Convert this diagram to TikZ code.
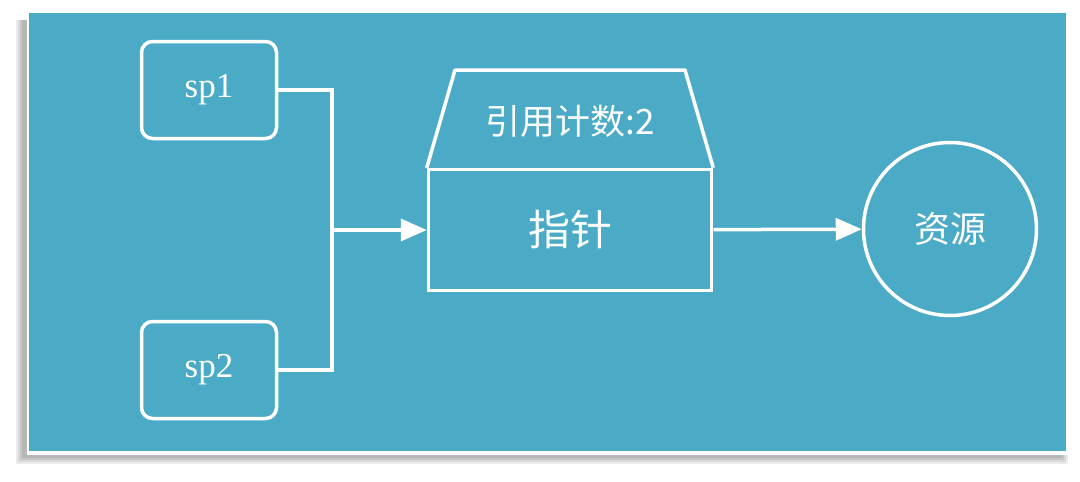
\documentclass[tikz,border=0pt]{standalone}
\usepackage{fontspec}
\setmainfont{Liberation Serif}
\newfontfamily\cjk{Noto Sans CJK SC}
\usetikzlibrary{arrows.meta}
\definecolor{panelblue}{HTML}{4BABC6}
\tikzset{
  spbox/.style={draw, rounded corners=11pt, minimum width=135pt, minimum height=97pt, font=\fontsize{35}{40}\selectfont},
  ptrbox/.style={draw, minimum width=283pt, minimum height=121pt, font=\cjk\fontsize{42}{46}\selectfont},
}
\begin{document}
\begin{tikzpicture}[x=1pt, y=-1pt, line width=3.5pt, white, >={Triangle[length=26pt, width=22pt]}]
\useasboundingbox (0,0) rectangle (1080,482);
\fill[white] (0,0) rectangle (1080,482);
% shadow of the panel
\foreach \d in {0,2,4,6}
  \fill[black, opacity=0.08] (22-\d,20) rectangle (1062+\d,458+\d);
\fill[white] (27,11) rectangle (1068,455);
\fill[panelblue] (29,13) rectangle (1066,451);

\node (sp1) [spbox] at (209,90) {sp1};
\node (sp2) [spbox] at (209,370) {sp2};
\node (ptr) [ptrbox] at (570,230) {指针};
\node (cnt) [font=\cjk\fontsize{35}{40}\selectfont] at (570,121) {引用计数:2};
\node (res) [draw, circle, minimum size=173pt, font=\cjk\fontsize{36}{40}\selectfont] at (950,229) {资源};
\coordinate (join) at (332,230);

\draw[line join=round] (ptr.north west) -- (455,70) -- (685,70) -- (ptr.north east);
\draw (sp1.east) -| (join);
\draw (sp2.east) -| (join);
\draw[->] (join) -- (ptr.west);
\draw[->] (ptr) -- (res);
\end{tikzpicture}
\end{document}
